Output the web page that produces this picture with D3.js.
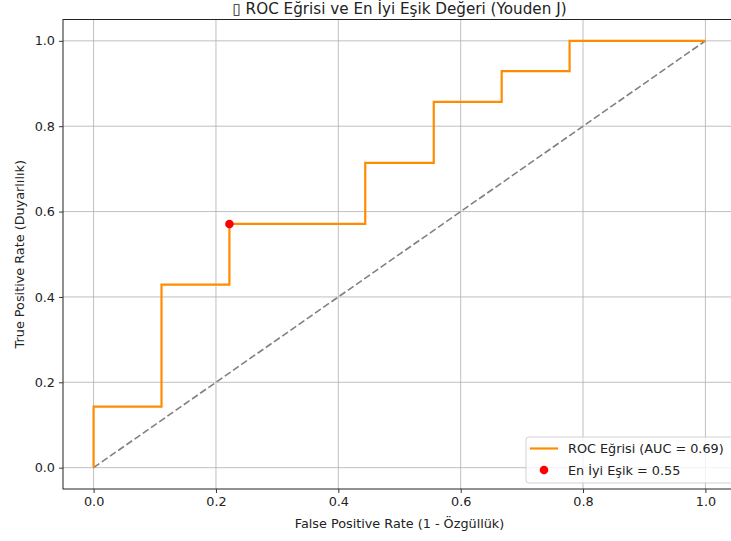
<!DOCTYPE html>
<html>
<head>
<meta charset="utf-8">
<script src="https://d3js.org/d3.v7.min.js"></script>
<style>
    body { margin: 0; background: #fff; }
    svg text { font-family: "DejaVu Sans", sans-serif; fill: #222; }
</style>
</head>
<body>
<div id="chart"></div>
<script>
// ROC points (corners of the step curve)
const fpr = [0, 0, 0.111, 0.111, 0.222, 0.222, 0.444, 0.444, 0.556, 0.556, 0.667, 0.667, 0.778, 0.778, 1.0];
const tpr = [0, 0.143, 0.143, 0.429, 0.429, 0.571, 0.571, 0.714, 0.714, 0.857, 0.857, 0.929, 0.929, 1.0, 1.0];
const bestPoint = { fpr: 0.222, tpr: 0.571 };
const aucValue = 0.69;
const bestThreshold = 0.55;
const xTicks = [0, 0.2, 0.4, 0.6, 0.8, 1.0];
const yTicks = [0, 0.2, 0.4, 0.6, 0.8, 1.0];
const chanceLine = [[0, 0], [1, 1]];

const W = 731, H = 541;
const plotLeft = 63, plotRight = 736, plotTop = 19.5, plotBottom = 489;
const FS = "12.8px";

const svg = d3.select("#chart").append("svg")
    .attr("width", W).attr("height", H);

svg.append("rect").attr("width", W).attr("height", H).attr("fill", "#fff");

const x = d3.scaleLinear().domain([-0.05, 1.05]).range([plotLeft, plotRight]);
const y = d3.scaleLinear().domain([-0.05, 1.05]).range([plotBottom, plotTop]);

// grid
const grid = svg.append("g");
grid.selectAll(".gx").data(xTicks).join("line")
    .attr("x1", d => x(d)).attr("x2", d => x(d))
    .attr("y1", plotTop).attr("y2", plotBottom)
    .attr("stroke", "#b0b0b0").attr("stroke-width", 0.8);
grid.selectAll(".gy").data(yTicks).join("line")
    .attr("y1", d => y(d)).attr("y2", d => y(d))
    .attr("x1", plotLeft).attr("x2", plotRight)
    .attr("stroke", "#b0b0b0").attr("stroke-width", 0.8);

// chance diagonal
svg.append("path")
    .datum(chanceLine)
    .attr("fill", "none")
    .attr("stroke", "#808080")
    .attr("stroke-width", 1.6)
    .attr("stroke-dasharray", "7,3")
    .attr("d", d3.line().x(d => x(d[0])).y(d => y(d[1])));

// ROC curve
const rocData = fpr.map((f, i) => ({ f: f, t: tpr[i] }));
svg.append("path")
    .datum(rocData)
    .attr("fill", "none")
    .attr("stroke", "#ff8c00")
    .attr("stroke-width", 2.2)
    .attr("d", d3.line().x(d => x(d.f)).y(d => y(d.t)));

// best threshold point
svg.append("circle")
    .attr("cx", x(bestPoint.fpr)).attr("cy", y(bestPoint.tpr))
    .attr("r", 4.3).attr("fill", "#ff0000");

// axes
const xAxis = svg.append("g")
    .attr("transform", `translate(0,${plotBottom})`)
    .call(d3.axisBottom(x).tickValues(xTicks).tickFormat(d3.format(".1f")).tickSize(4).tickPadding(4));
const yAxis = svg.append("g")
    .attr("transform", `translate(${plotLeft},0)`)
    .call(d3.axisLeft(y).tickValues(yTicks).tickFormat(d3.format(".1f")).tickSize(4).tickPadding(4));

[xAxis, yAxis].forEach(a => {
    a.select(".domain").remove();
    a.selectAll(".tick line").attr("stroke", "#222").attr("stroke-width", 0.9);
    a.selectAll(".tick text").style("font-size", FS).style("font-family", "DejaVu Sans").attr("fill", "#222");
});

// spines
svg.append("rect")
    .attr("x", plotLeft).attr("y", plotTop)
    .attr("width", plotRight - plotLeft).attr("height", plotBottom - plotTop)
    .attr("fill", "none").attr("stroke", "#222").attr("stroke-width", 1);

// labels
svg.append("text")
    .attr("x", (plotLeft + plotRight) / 2).attr("y", 528)
    .attr("text-anchor", "middle").style("font-size", FS)
    .text("False Positive Rate (1 - Özgüllük)");

svg.append("text")
    .attr("transform", `translate(24,${(plotTop + plotBottom) / 2}) rotate(-90)`)
    .attr("text-anchor", "middle").style("font-size", FS)
    .text("True Positive Rate (Duyarlılık)");

svg.append("text")
    .attr("x", (plotLeft + plotRight) / 2).attr("y", 14)
    .attr("text-anchor", "middle").style("font-size", "15.2px")
    .text("\u25AF ROC Eğrisi ve En İyi Eşik Değeri (Youden J)");

// legend
const lg = svg.append("g").attr("transform", "translate(526,437)");
lg.append("rect")
    .attr("width", 210).attr("height", 46).attr("rx", 3)
    .attr("fill", "#fff").attr("fill-opacity", 0.8)
    .attr("stroke", "#cccccc").attr("stroke-width", 0.9);
lg.append("line")
    .attr("x1", 4).attr("x2", 32).attr("y1", 11.5).attr("y2", 11.5)
    .attr("stroke", "#ff8c00").attr("stroke-width", 2.2);
lg.append("text").attr("x", 42).attr("y", 16).style("font-size", FS)
    .text(`ROC Eğrisi (AUC = ${aucValue.toFixed(2)})`);
lg.append("circle").attr("cx", 18).attr("cy", 33).attr("r", 4.3).attr("fill", "#ff0000");
lg.append("text").attr("x", 42).attr("y", 37.5).style("font-size", FS)
    .text(`En İyi Eşik = ${bestThreshold.toFixed(2)}`);
</script>
</body>
</html>
